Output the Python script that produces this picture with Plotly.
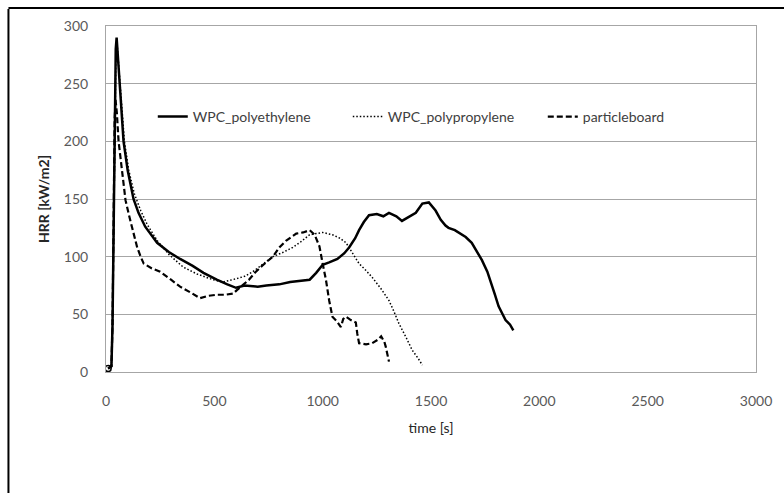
import plotly.graph_objects as go

# WPC_polyethylene
pe_t = [10, 25, 30, 35, 40, 45, 49, 62, 81, 100, 127, 150, 181, 236, 290, 342, 400, 450, 511, 560, 600,
        640, 700, 740, 800, 850, 893, 940, 970, 1000, 1030, 1068, 1100, 1122, 1150, 1168, 1190, 1214,
        1250, 1280, 1306, 1340, 1366, 1400, 1430, 1460, 1490, 1521, 1545, 1567, 1581, 1610, 1627, 1660,
        1688, 1710, 1735, 1760, 1776, 1795, 1812, 1830, 1844, 1865, 1880]
pe_hrr = [3, 5, 40, 120, 220, 280, 290, 250, 200, 175, 150, 138, 126, 112, 104, 98, 92, 86, 80, 76, 73,
          75, 74, 75, 76, 78, 79, 80, 86, 93, 95, 98, 103, 108, 116, 123, 130, 136,
          137, 135, 138, 135, 131, 135, 138, 146, 147, 140, 132, 127, 125, 123, 121, 117,
          112, 105, 97, 87, 77, 67, 57, 50, 45, 41, 36]

# WPC_polypropylene
pp_t = [10, 25, 30, 35, 40, 46, 50, 64, 85, 105, 130, 160, 190, 236, 290, 356, 420, 494, 540, 604, 640,
        678, 720, 770, 820, 862, 900, 940, 970, 1000, 1045, 1080, 1108, 1140, 1168, 1200, 1229, 1270,
        1306, 1330, 1352, 1385, 1413, 1440, 1460]
pp_hrr = [3, 5, 40, 130, 220, 280, 287, 250, 200, 175, 155, 140, 128, 114, 102, 91, 85, 80, 78, 81, 83,
          87, 93, 100, 104, 108, 113, 119, 120, 121, 119, 116, 112, 103, 94, 88, 82, 72,
          62, 52, 42, 30, 19, 12, 6]

# particleboard
pb_t = [10, 25, 30, 35, 40, 44, 50, 58, 75, 90, 110, 127, 144, 160, 174, 210, 250, 300, 342, 390, 434,
        470, 511, 550, 587, 604, 630, 660, 687, 720, 770, 800, 832, 878, 910, 940, 963, 975, 985, 1000,
        1015, 1030, 1045, 1065, 1084, 1095, 1107, 1130, 1153, 1160, 1168, 1200, 1229, 1255, 1270, 1285,
        1291, 1306]
pb_hrr = [3, 5, 40, 150, 220, 236, 225, 200, 170, 149, 133, 120, 108, 100, 94, 90, 87, 80, 74, 69, 64,
          66, 67, 67, 68, 71, 75, 80, 86, 92, 100, 108, 114, 120, 121, 123, 119, 114, 109, 94,
          80, 62, 48, 44, 39, 46, 48, 45, 43, 33, 25, 24, 25, 28, 31, 26,
          22, 9]

x_ticks = [0, 500, 1000, 1500, 2000, 2500, 3000]
y_ticks = [0, 50, 100, 150, 200, 250, 300]

FONT = "Lato, 'Open Sans', sans-serif"

fig = go.Figure()
fig.add_trace(go.Scatter(x=pe_t, y=pe_hrr, mode="lines", name="WPC_polyethylene",
                         line=dict(color="black", width=2.5)))
fig.add_trace(go.Scatter(x=pp_t, y=pp_hrr, mode="lines", name="WPC_polypropylene",
                         line=dict(color="black", width=1.5, dash="1.5px,2px")))
fig.add_trace(go.Scatter(x=pb_t, y=pb_hrr, mode="lines", name="particleboard",
                         line=dict(color="black", width=2.2, dash="6px,3px")))
# start marker
fig.add_trace(go.Scatter(x=[pe_t[0]], y=[pe_hrr[0]], mode="markers", showlegend=False,
                         marker=dict(symbol="circle-open", size=6, color="black", line=dict(width=1.5))))

L, R, T, B = 106, 25, 26, 121
W, H = 784, 493
pw, ph = W - L - R, H - T - B

def px_x(p):
    return (p - L) / pw

def px_y(p):
    return (H - B - p) / ph

fig.update_layout(
    width=W, height=H,
    margin=dict(l=L, r=R, t=T, b=B),
    paper_bgcolor="white", plot_bgcolor="white",
    font=dict(family=FONT, size=14, color="#595959"),
    showlegend=True,
    legend=dict(orientation="h", x=px_x(153), y=px_y(117), xanchor="left", yanchor="middle",
                bgcolor="rgba(0,0,0,0)", font=dict(size=14, color="#404040"),
                entrywidth=150, traceorder="normal"),
    xaxis=dict(range=[0, 3000], tickvals=x_ticks, showgrid=False, zeroline=False,
               showline=True, linecolor="#a6a6a6", mirror=True, ticks="",
               ticklabelstandoff=16,
               title=dict(text="time [s]", font=dict(size=14, color="#262626"), standoff=15)),
    yaxis=dict(range=[0, 300], tickvals=y_ticks, showgrid=True, gridcolor="#a6a6a6", zeroline=False,
               showline=True, linecolor="#a6a6a6", mirror=True, ticks="",
               ticklabelstandoff=14,
               title=dict(text="<b>HRR [kW/m2]</b>", font=dict(size=14, color="#262626"), standoff=10)),
    shapes=[
        dict(type="line", xref="paper", yref="paper", x0=px_x(8), x1=px_x(8), y0=px_y(9), y1=px_y(520),
             line=dict(color="black", width=2)),
        dict(type="line", xref="paper", yref="paper", x0=px_x(8), x1=px_x(800), y0=px_y(8), y1=px_y(8),
             line=dict(color="black", width=2)),
    ],
)

fig.write_html("out.html")
